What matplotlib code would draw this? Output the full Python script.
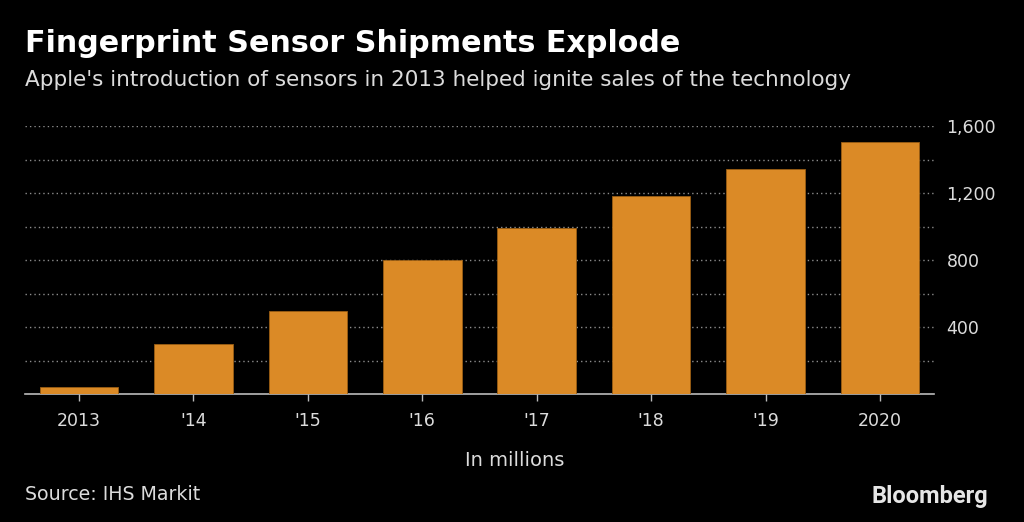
import numpy as np
import matplotlib
matplotlib.use("Agg")
import matplotlib.pyplot as plt
from matplotlib.ticker import FixedLocator, FuncFormatter

# --- data (millions of units) ---
years = ["2013", "'14", "'15", "'16", "'17", "'18", "'19", "2020"]
shipments = [40, 300, 495, 800, 990, 1185, 1345, 1505]

BG = "#000000"
BAR = "#DB8A26"
TXT = "#DCDCDC"
GRID = "#8C8C8C"
FONT = "DejaVu Sans"

fig = plt.figure(figsize=(10.24, 5.22), dpi=100, facecolor=BG)
ax = fig.add_axes([25 / 1024, 1 - 394 / 522, (934 - 25) / 1024, (394 - 126) / 522])
ax.set_facecolor(BG)

x = np.arange(len(years))
ax.bar(x, shipments, width=0.686, color=BAR, edgecolor="#9A5E14", linewidth=0.6, zorder=3)

ax.set_xlim(-0.47, len(years) - 1 + 0.47)
ax.set_ylim(0, 1600)

# dotted grid every 200, labels every 400 on the right
ax.yaxis.set_major_locator(FixedLocator([400, 800, 1200, 1600]))
ax.yaxis.set_minor_locator(FixedLocator([200, 600, 1000, 1400]))
ax.yaxis.set_major_formatter(FuncFormatter(lambda v, p: f"{int(v):,}"))
ax.grid(axis="y", which="both", color=GRID, linestyle=(0, (1, 2.2)), linewidth=1.0, zorder=0)
ax.yaxis.tick_right()
ax.tick_params(axis="y", which="both", length=0, pad=9, labelsize=12.5, labelcolor=TXT)

ax.set_xticks(x)
ax.set_xticklabels(years)
ax.tick_params(axis="x", length=5, width=1, color="#BBBBBB", pad=8, labelsize=12.5, labelcolor=TXT)
for lab in ax.get_xticklabels() + ax.get_yticklabels():
    lab.set_fontfamily(FONT)

for side in ["left", "right", "top"]:
    ax.spines[side].set_visible(False)
ax.spines["bottom"].set_color("#BBBBBB")
ax.spines["bottom"].set_linewidth(1.2)

# --- text ---
fig.text(25 / 1024, 1 - 44 / 522, "Fingerprint Sensor Shipments Explode", color="white",
         fontsize=21.7, fontweight="bold", fontfamily=FONT, va="center", ha="left")
fig.text(25 / 1024, 1 - 80 / 522,
         "Apple's introduction of sensors in 2013 helped ignite sales of the technology",
         color=TXT, fontsize=15.5, fontfamily=FONT, va="center", ha="left")
fig.text(515 / 1024, 1 - 461 / 522, "In millions", color=TXT, fontsize=14,
         fontfamily=FONT, va="center", ha="center")
fig.text(25 / 1024, 1 - 495 / 522, "Source: IHS Markit", color=TXT, fontsize=13.7,
         fontfamily=FONT, va="center", ha="left")
fig.text(988 / 1024, 1 - 496 / 522, "Bloomberg", color="#E6E6E6", fontsize=17,
         fontweight="bold", fontfamily="Roboto", va="center", ha="right")

fig.savefig("out.png", dpi=100, facecolor=BG)
